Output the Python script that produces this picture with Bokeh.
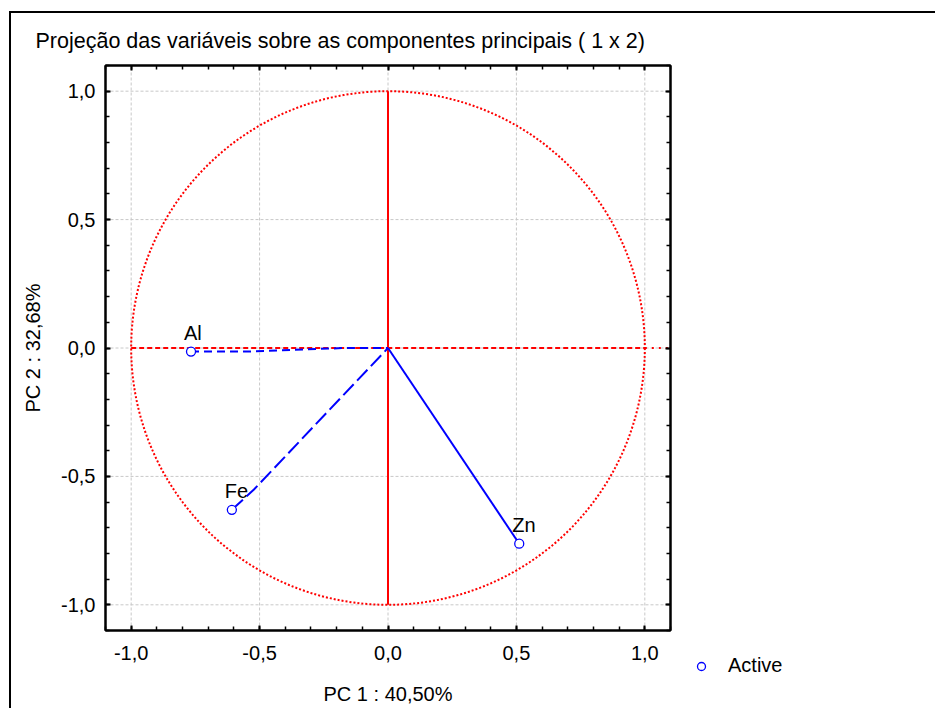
from bokeh.plotting import figure
from bokeh.layouts import row, column
from bokeh.models import (LinearAxis, SingleIntervalTicker, CustomJSTickFormatter,
                          Range1d, Legend, LegendItem, ColumnDataSource)
from bokeh.core.properties import value
from bokeh.embed import file_html
from bokeh.resources import INLINE

# ---- data ----
variables = ["Al", "Fe", "Zn"]
pc1 = [-0.767, -0.608, 0.511]
pc2 = [-0.014, -0.630, -0.762]
# traced vector paths from the origin to each variable
al_path_x = [-0.767, -0.55, -0.17, 0.0]
al_path_y = [-0.014, -0.014, 0.0, 0.0]
fe_path_x = [-0.608, -0.522, 0.0]
fe_path_y = [-0.630, -0.551, 0.0]
zn_path_x = [0.511, 0.0]
zn_path_y = [-0.762, 0.0]

title_text = "Projeção das variáveis sobre as componentes principais ( 1 x  2)"
x_label = "PC 1 : 40,50%"
y_label = "PC 2 : 32,68%"
legend_label = "Active"
grid_ticks = [-1.0, -0.5, 0.0, 0.5, 1.0]

FONT = "Liberation Sans"
FS = "20px"
BLUE = "#0000ff"
RED = "#ff0000"

# canvas placed inside a bordered box starting at (9, 11) in the window
OX, OY = 11, 13
SPLIT = 680  # window x where the legend canvas begins

p = figure(width=SPLIT - OX, height=708 - OY, output_backend="svg", toolbar_location=None,
           x_range=Range1d(-1.1, 1.1), y_range=Range1d(-1.1, 1.1),
           min_border_left=105 - OX, min_border_right=SPLIT - 670, min_border_top=65 - OY,
           min_border_bottom=78, x_axis_type=None, y_axis_type=None)
p.background_fill_color = "white"
p.border_fill_color = "white"
p.outline_line_color = "black"
p.outline_line_width = 2

fmt = CustomJSTickFormatter(code="return tick.toFixed(1).replace('.', ',');")
blank = CustomJSTickFormatter(code="return '';")

def make_axis(labels):
    ax = LinearAxis(ticker=SingleIntervalTicker(interval=0.5, num_minor_ticks=5),
                    formatter=fmt if labels else blank)
    ax.axis_line_color = "black"
    ax.axis_line_width = 2
    ax.major_tick_in = 5
    ax.major_tick_out = 0
    ax.minor_tick_in = 4
    ax.minor_tick_out = 0
    ax.major_tick_line_width = 2
    ax.minor_tick_line_width = 1.5
    ax.major_label_text_font = FONT
    ax.major_label_text_font_size = FS if labels else "1px"
    ax.major_label_text_color = "black"
    ax.major_label_standoff = 12 if labels else 0
    ax.axis_label_text_font = FONT
    ax.axis_label_text_font_size = FS
    ax.axis_label_text_font_style = "normal"
    ax.axis_label_text_color = "black"
    return ax

xb = make_axis(True)
xb.axis_label = x_label
xb.major_label_standoff = 15
xb.axis_label_standoff = 20
yl = make_axis(True)
yl.axis_label = y_label
yl.axis_label_standoff = 14
yl.major_label_standoff = 10
p.add_layout(xb, "below")
p.add_layout(yl, "left")
p.add_layout(make_axis(False), "above")
p.add_layout(make_axis(False), "right")

p.title.text = title_text
p.title.align = "left"
p.title.offset = -70
p.title.text_font = FONT
p.title.text_font_size = "21.5px"
p.title.text_font_style = "normal"
p.title.text_color = "black"
p.title.standoff = 25

# grid
for t in grid_ticks:
    p.segment(x0=t, y0=-1.1, x1=t, y1=1.1, line_color="#c8c8c8", line_width=1, line_dash="3 2")
    p.segment(x0=-1.1, y0=t, x1=1.1, y1=t, line_color="#c8c8c8", line_width=1, line_dash="3 2")

# unit circle and axes
p.circle(x=0, y=0, radius=1, fill_color=None, line_color=RED, line_width=2, line_dash="2 2")
p.segment(x0=0, y0=-1, x1=0, y1=1, line_color=RED, line_width=2)
p.segment(x0=-1, y0=0, x1=1, y1=0, line_color=RED, line_width=2, line_dash="5 3")
p.segment(x0=1, y0=0, x1=1.1, y1=0, line_color=RED, line_width=2, line_dash="2 5")

# vectors
p.line(al_path_x, al_path_y, line_color=BLUE, line_width=2, line_dash="8 5")
p.line(fe_path_x, fe_path_y, line_color=BLUE, line_width=2, line_dash="15 5")
p.line(zn_path_x, zn_path_y, line_color=BLUE, line_width=2)

src = ColumnDataSource(dict(x=pc1, y=pc2, name=variables))
marker_style = dict(marker="circle", size=9, line_color=BLUE, fill_color="white", line_width=1.3)
p.scatter("x", "y", source=src, **marker_style)
p.text("x", "y", text="name", source=src, x_offset=-7, y_offset=-19,
       text_font=value(FONT), text_font_size=FS, text_baseline="middle", text_align="left",
       text_color="black")

# legend canvas to the right of the plot
leg = figure(width=935 - SPLIT, height=708 - OY, output_backend="svg", toolbar_location=None,
             x_axis_type=None, y_axis_type=None, min_border_left=0, min_border_right=0,
             min_border_top=0, min_border_bottom=0, x_range=Range1d(0, 1), y_range=Range1d(0, 1))
leg.outline_line_color = None
leg.background_fill_color = "white"
leg.border_fill_color = "white"
leg_src = ColumnDataSource(dict(x=[5.0], y=[5.0]))  # outside the visible range
leg_r = leg.scatter("x", "y", source=leg_src, **marker_style)
legend = Legend(items=[LegendItem(label=legend_label, renderers=[leg_r])], location=(11, 31),
                padding=0, margin=0, spacing=0, glyph_width=20, glyph_height=20, label_height=20,
                label_standoff=17, border_line_color=None, background_fill_alpha=0,
                label_text_font=FONT, label_text_font_size=FS, label_text_color="black")
leg.add_layout(legend, "center")

layout = row(p, column(leg), spacing=0)
layout.margin = (OY - 2, 0, 0, OX - 2)
layout.styles = {"border-top": "2px solid black", "border-left": "2px solid black"}

open("out.html", "w").write(file_html(layout, INLINE))
